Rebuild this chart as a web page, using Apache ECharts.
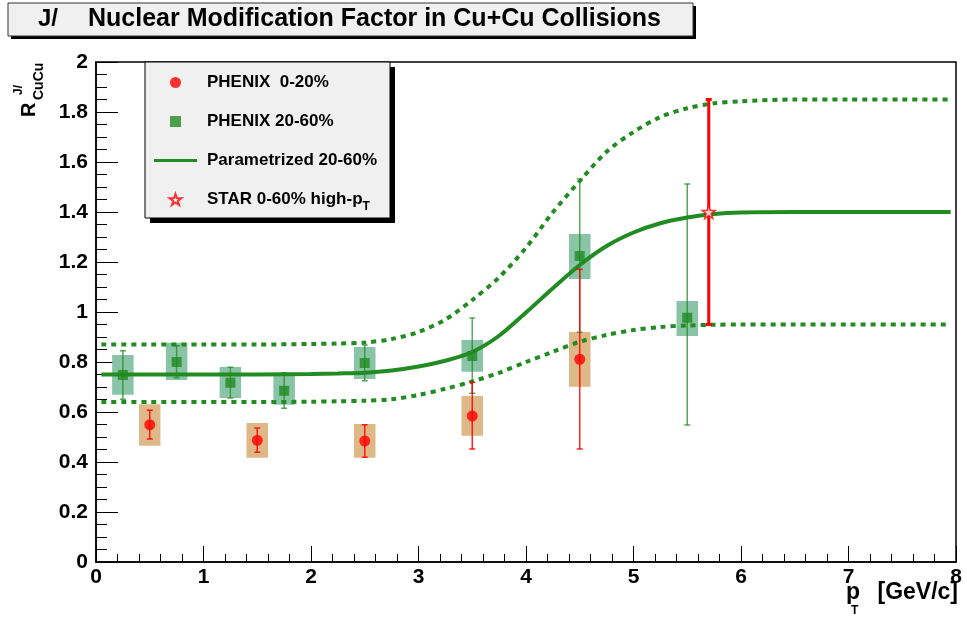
<!DOCTYPE html>
<html><head><meta charset="utf-8">
<script src="https://cdn.jsdelivr.net/npm/echarts@6/dist/echarts.min.js"></script>
<style>html,body{margin:0;padding:0;background:#fff}#c{width:967px;height:618px}</style>
</head><body><div id="c"></div>
<script>
const FONT = '"Liberation Sans", Arial, Helvetica, sans-serif';

// PHENIX 20-60%
const greenX = [0.25, 0.75, 1.25, 1.75, 2.5, 3.5, 4.5, 5.5];
const greenY = [0.748, 0.800, 0.717, 0.685, 0.796, 0.824, 1.224, 0.977];
const greenStatLo = [0.651, 0.737, 0.656, 0.615, 0.725, 0.675, 0.919, 0.548];
const greenStatHi = [0.845, 0.865, 0.779, 0.757, 0.868, 0.976, 1.532, 1.512];
const greenSysLo = [0.669, 0.728, 0.656, 0.629, 0.732, 0.761, 1.132, 0.904];
const greenSysHi = [0.828, 0.877, 0.780, 0.744, 0.860, 0.888, 1.312, 1.044];

// PHENIX 0-20%
const redX = [0.5, 1.5, 2.5, 3.5, 4.5];
const redY = [0.549, 0.487, 0.484, 0.584, 0.811];
const redStatLo = [0.492, 0.439, 0.419, 0.452, 0.452];
const redStatHi = [0.607, 0.536, 0.549, 0.719, 1.171];
const redSysLo = [0.465, 0.417, 0.417, 0.505, 0.701];
const redSysHi = [0.631, 0.556, 0.552, 0.664, 0.920];

// STAR 0-60% high-pT
const starX = [5.7];
const starY = [1.40];
const starLo = [0.95];
const starHi = [1.85];

// Parametrized 20-60% (central and band edges)
const curveX = [0.05, 0.5, 1, 1.5, 2, 2.25, 2.5, 2.75, 3, 3.25, 3.5, 3.75, 4, 4.25, 4.5, 4.75, 5, 5.25, 5.5, 5.75, 6, 6.5, 7, 7.5, 7.95];
const curveMid = [0.75, 0.75, 0.75, 0.75, 0.752, 0.754, 0.757, 0.766, 0.782, 0.805, 0.840, 0.905, 0.998, 1.095, 1.188, 1.264, 1.318, 1.355, 1.378, 1.392, 1.398, 1.40, 1.40, 1.40, 1.40];
const curveUp = [0.87, 0.87, 0.87, 0.87, 0.872, 0.874, 0.878, 0.892, 0.920, 0.970, 1.048, 1.139, 1.257, 1.399, 1.524, 1.641, 1.72, 1.78, 1.815, 1.835, 1.843, 1.85, 1.85, 1.85, 1.85];
const curveLow = [0.64, 0.64, 0.64, 0.64, 0.641, 0.643, 0.645, 0.651, 0.668, 0.693, 0.722, 0.757, 0.80, 0.841, 0.881, 0.908, 0.928, 0.940, 0.946, 0.949, 0.95, 0.95, 0.95, 0.95, 0.95];

const NAME_RED = 'PHENIX  0-20%';
const NAME_GREEN = 'PHENIX 20-60%';
const NAME_PAR = 'Parametrized 20-60%';
const NAME_STAR = 'STAR 0-60% high-pT';

const BOX_HALF = 0.1;
const GREEN = '#228b22';
const STAR_PATH = 'path://M50,0 L61.8,35.1 L97.6,34.5 L69,56.2 L79.4,90.5 L50,70 L20.6,90.5 L31,56.2 L2.4,34.5 L38.2,35.1 Z';
const SQUARE_PATH = 'path://M0,0 L10,0 L10,10 L0,10 Z';
const BAR_PATH = 'path://M0,0 L0.01,0 L0,0.01 Z M0,4 L43,4 L43,7 L0,7 Z M0,11 L0.01,11 L0,10.99 Z';

function boxRender(color) {
  return function (params, api) {
    const x = api.value(0), lo = api.value(1), hi = api.value(2);
    const a = api.coord([x - BOX_HALF, hi]);
    const b = api.coord([x + BOX_HALF, lo]);
    return { type: 'rect', shape: { x: a[0], y: a[1], width: b[0] - a[0], height: b[1] - a[1] }, style: { fill: color } };
  };
}
function errRender(color, lw, cap) {
  return function (params, api) {
    const x = api.value(0), lo = api.value(1), hi = api.value(2);
    const t = api.coord([x, hi]);
    const b = api.coord([x, lo]);
    const st = { stroke: color, lineWidth: lw };
    return {
      type: 'group', children: [
        { type: 'line', shape: { x1: t[0], y1: t[1], x2: b[0], y2: b[1] }, style: st },
        { type: 'line', shape: { x1: t[0] - cap, y1: t[1], x2: t[0] + cap, y2: t[1] }, style: st },
        { type: 'line', shape: { x1: b[0] - cap, y1: b[1], x2: b[0] + cap, y2: b[1] }, style: st }
      ]
    };
  };
}
const pairs = (xs, ys) => xs.map((x, i) => [x, ys[i]]);
const ranges = (xs, lo, hi) => xs.map((x, i) => [x, lo[i], hi[i]]);

const chart = echarts.init(document.getElementById('c'));
const axisLabel = { color: '#000', fontFamily: FONT, fontWeight: 'bold', fontSize: 21 };

chart.setOption({
  animation: false,
  backgroundColor: '#fff',
  grid: { left: 96, top: 62, right: 11, bottom: 56, show: true, borderColor: '#000', borderWidth: 1.5, backgroundColor: 'transparent' },
  xAxis: {
    type: 'value', min: 0, max: 8, interval: 1,
    axisLine: { lineStyle: { color: '#000', width: 1.5 } },
    axisTick: { inside: true, length: 16, lineStyle: { color: '#000', width: 1 } },
    minorTick: { show: true, splitNumber: 5, length: 8, lineStyle: { color: '#000', width: 1 } },
    splitLine: { show: false },
    axisLabel: Object.assign({ margin: 5 }, axisLabel)
  },
  yAxis: {
    type: 'value', min: 0, max: 2, interval: 0.2,
    axisLine: { lineStyle: { color: '#000', width: 1.5 } },
    axisTick: { inside: true, length: 22, lineStyle: { color: '#000', width: 1 } },
    minorTick: { show: true, splitNumber: 4, length: 11, lineStyle: { color: '#000', width: 1 } },
    splitLine: { show: false },
    axisLabel: Object.assign({ margin: 8 }, axisLabel)
  },
  legend: {
    orient: 'vertical', left: 154, top: 74, padding: 0, itemGap: 22,
    itemWidth: 43, itemHeight: 11, z: 10, symbolKeepAspect: true,
    data: [
      { name: NAME_RED, icon: 'circle' },
      { name: NAME_GREEN, icon: SQUARE_PATH },
      { name: NAME_PAR, icon: BAR_PATH, itemStyle: { color: GREEN } },
      { name: NAME_STAR, icon: STAR_PATH }
    ],
    formatter: function (name) {
      if (name === NAME_STAR) return '{a|STAR 0-60% high-p}{s|T}';
      return '{a|' + name + '}';
    },
    textStyle: {
      padding: [0, 0, 0, 5],
      rich: {
        a: { fontFamily: FONT, fontWeight: 'bold', fontSize: 17, color: '#000' },
        s: { fontFamily: FONT, fontWeight: 'bold', fontSize: 12, color: '#000', padding: [14, 0, 0, 0] }
      }
    }
  },
  graphic: [
    // title box
    { type: 'rect', z: 20, shape: { x: 11, y: 6, width: 685, height: 33 }, style: { fill: '#000' } },
    { type: 'rect', z: 21, shape: { x: 8, y: 3, width: 685, height: 33 }, style: { fill: '#f0f0f0', stroke: '#333', lineWidth: 1 } },
    { type: 'text', z: 22, x: 38, y: 19, style: { text: 'J/', font: 'bold 24px ' + FONT, fill: '#000', textVerticalAlign: 'middle' } },
    { type: 'text', z: 22, x: 88, y: 19, style: { text: 'Nuclear Modification Factor in Cu+Cu Collisions', font: 'bold 25px ' + FONT, fill: '#000', textVerticalAlign: 'middle' } },
    // legend box
    { type: 'rect', z: 3, shape: { x: 150, y: 67, width: 245, height: 156 }, style: { fill: '#000' } },
    { type: 'rect', z: 4, shape: { x: 145, y: 62, width: 245, height: 156 }, style: { fill: '#f0f0f0', stroke: '#000', lineWidth: 1 } },
    // y axis title
    { type: 'text', x: 29, y: 117, rotation: Math.PI / 2, style: { text: 'R', font: 'bold 20px ' + FONT, fill: '#000', textVerticalAlign: 'middle' } },
    { type: 'text', x: 39, y: 100, rotation: Math.PI / 2, style: { text: 'CuCu', font: 'bold 14px ' + FONT, fill: '#000', textVerticalAlign: 'middle' } },
    { type: 'text', x: 19, y: 95, rotation: Math.PI / 2, style: { text: 'J/', font: 'bold 12px ' + FONT, fill: '#000', textVerticalAlign: 'middle' } },
    // x axis title
    { type: 'text', x: 846, y: 593, style: { text: 'p', font: 'bold 23px ' + FONT, fill: '#000', textVerticalAlign: 'middle' } },
    { type: 'text', x: 851, y: 611, style: { text: 'T', font: 'bold 12px ' + FONT, fill: '#000', textVerticalAlign: 'middle' } },
    { type: 'text', x: 958, y: 593, style: { text: '[GeV/c]', font: 'bold 23px ' + FONT, fill: '#000', textAlign: 'right', textVerticalAlign: 'middle' } }
  ],
  series: [
    { type: 'custom', name: 'green sys', renderItem: boxRender('#89c4a6'), data: ranges(greenX, greenSysLo, greenSysHi), encode: { x: 0, y: [1, 2] }, z: 1, silent: true },
    { type: 'custom', name: 'red sys', renderItem: boxRender('#deb887'), data: ranges(redX, redSysLo, redSysHi), encode: { x: 0, y: [1, 2] }, z: 1, silent: true },
    { type: 'line', name: 'band up', data: pairs(curveX, curveUp), smooth: 0.3, symbol: 'none', lineStyle: { color: GREEN, width: 4, type: [5, 5] }, z: 2 },
    { type: 'line', name: 'band low', data: pairs(curveX, curveLow), smooth: 0.3, symbol: 'none', lineStyle: { color: GREEN, width: 4, type: [5, 5] }, z: 2 },
    { type: 'line', name: NAME_PAR, data: pairs(curveX, curveMid), smooth: 0.3, symbol: 'none', itemStyle: { color: GREEN }, lineStyle: { color: GREEN, width: 4 }, z: 2 },
    { type: 'custom', name: 'green stat', renderItem: errRender('rgba(34,139,34,0.75)', 1.5, 3), data: ranges(greenX, greenStatLo, greenStatHi), encode: { x: 0, y: [1, 2] }, z: 3, silent: true },
    { type: 'scatter', name: NAME_GREEN, data: pairs(greenX, greenY), symbol: SQUARE_PATH, symbolKeepAspect: true, symbolSize: 10, itemStyle: { color: GREEN }, z: 4 },
    { type: 'custom', name: 'red stat', renderItem: errRender('rgba(255,0,0,0.85)', 1.5, 3), data: ranges(redX, redStatLo, redStatHi), encode: { x: 0, y: [1, 2] }, z: 5, silent: true },
    { type: 'scatter', name: NAME_RED, data: pairs(redX, redY), symbol: 'circle', symbolSize: 11, itemStyle: { color: '#ff0000' }, z: 6 },
    { type: 'custom', name: 'star err', renderItem: errRender('#ff0000', 3, 3), data: ranges(starX, starLo, starHi), encode: { x: 0, y: [1, 2] }, z: 7, silent: true },
    { type: 'scatter', name: NAME_STAR, data: pairs(starX, starY), symbol: STAR_PATH, symbolSize: 13, itemStyle: { color: '#fff', borderColor: '#ff0000', borderWidth: 1.5 }, z: 8 }
  ]
});
</script></body></html>
